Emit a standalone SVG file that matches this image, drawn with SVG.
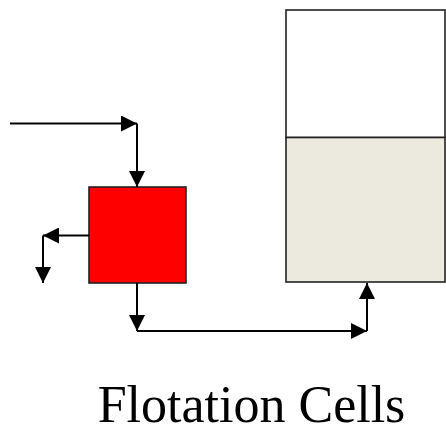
<svg xmlns="http://www.w3.org/2000/svg" width="446" height="429" viewBox="0 0 446 429">
<style>
.flow{stroke:#000;stroke-width:2;fill:none;marker-end:url(#ah)}
.seg{stroke:#000;stroke-width:2;fill:none}
.box{stroke:#222;stroke-width:1.6}
.lbl{font-family:"Liberation Serif","Times New Roman",serif;font-size:52px;fill:#000}
</style>
<defs>
<marker id="ah" markerUnits="userSpaceOnUse" markerWidth="16" markerHeight="16" viewBox="0 0 16 16" refX="16" refY="8" orient="auto">
<path d="M0,0 L16,8 L0,16 Z" fill="#000"/>
</marker>
</defs>
<g id="tank">
<rect x="286" y="10" width="159" height="127.5" fill="#fff" class="box"/>
<rect x="286" y="137.5" width="159" height="144.5" fill="#ECE9DF" class="box"/>
</g>
<g id="cell">
<rect x="89" y="187" width="97" height="96" fill="#FF0000" class="box"/>
</g>
<g id="connectors">
<line x1="10" y1="123.5" x2="137" y2="123.5" class="flow"/>
<line x1="137" y1="123.5" x2="137" y2="187" class="flow"/>
<line x1="89" y1="235.5" x2="43" y2="235.5" class="flow"/>
<line x1="43" y1="235.5" x2="43" y2="283" class="flow"/>
<line x1="137" y1="283" x2="137" y2="331" class="flow"/>
<line x1="137" y1="331" x2="367" y2="331" class="flow"/>
<line x1="367" y1="331" x2="367" y2="283" class="flow"/>
</g>
<text x="251.5" y="422" text-anchor="middle" class="lbl">Flotation Cells</text>
</svg>
